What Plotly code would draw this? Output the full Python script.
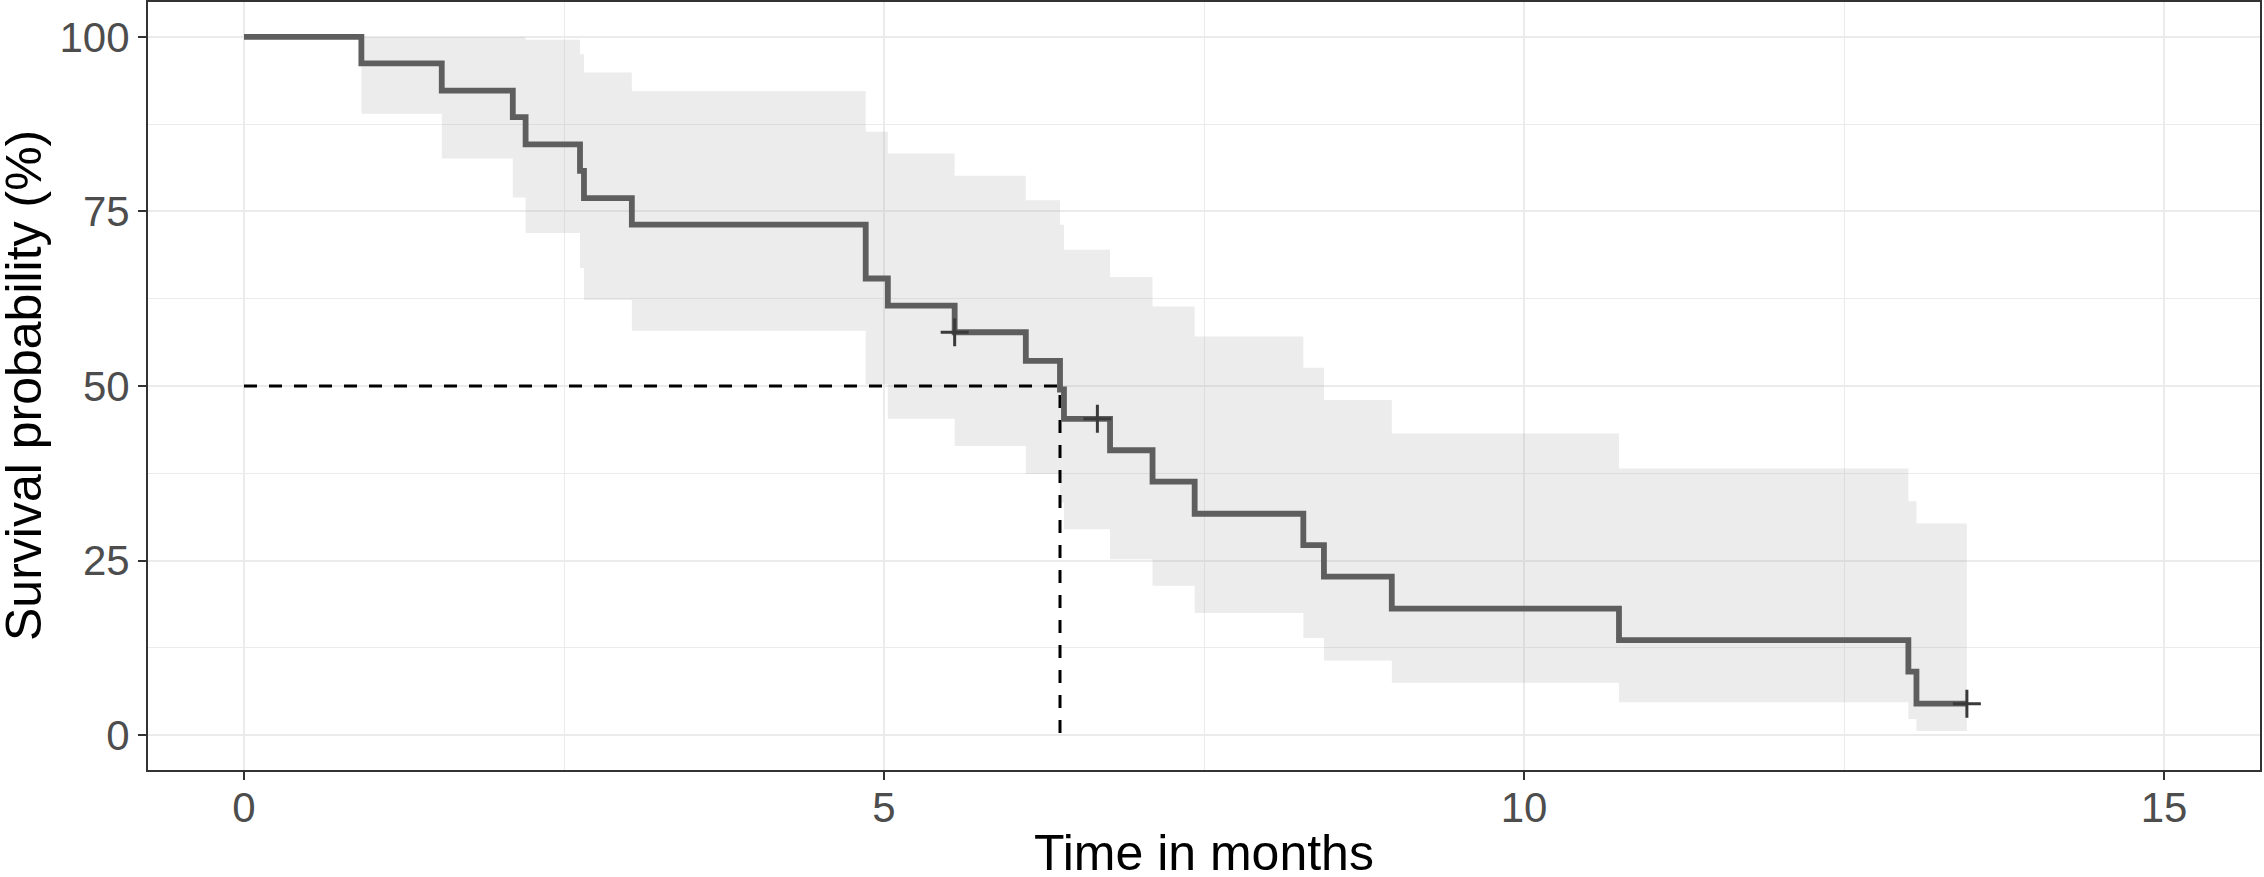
"""
Kaplan-Meier curve with confidence band and median survival line.
"""
import plotly.graph_objects as go

# event times (months) where the curve drops, and survival (%) after each drop
event_time = [0, 0.917, 1.545, 2.10, 2.20, 2.625, 2.656, 3.03, 4.857, 5.03, 5.552,
              6.108, 6.375, 6.406, 6.766, 7.098, 7.427, 8.276, 8.437, 8.967,
              10.742, 13.003, 13.066]
surv = [100, 96.2, 92.3, 88.5, 84.6, 80.8, 76.9, 73.1, 65.4, 61.5, 57.7,
        53.6, 49.5, 45.3, 40.8, 36.3, 31.7, 27.2, 22.7, 18.1,
        13.6, 9.1, 4.5]
# confidence band for each interval
upper = [100, 100, 100, 100, 99.6, 97.5, 94.9, 92.2, 86.4, 83.3, 80.1,
         76.6, 73.1, 69.5, 65.6, 61.4, 57.1, 52.6, 48.0, 43.2,
         38.2, 33.5, 30.3]
lower = [100, 89.0, 82.6, 77.0, 71.9, 66.9, 62.3, 57.9, 50.2, 45.3, 41.4,
         37.4, 33.3, 29.5, 25.2, 21.4, 17.5, 13.9, 10.7, 7.5,
         4.7, 2.3, 0.6]
last_time = 13.46

# censored observations
censor_time = [5.552, 6.667, 13.46]
censor_surv = [57.7, 45.3, 4.5]

median_time = 6.375

x_ticks = [0, 5, 10, 15]
y_ticks = [0, 25, 50, 75, 100]

FONT = "Liberation Sans, Arial, Helvetica, sans-serif"

step_x = event_time + [last_time]

fig = go.Figure()

# confidence band
fig.add_trace(go.Scatter(
    x=step_x, y=upper + [upper[-1]],
    mode="lines", line=dict(width=0, shape="hv"),
    hoverinfo="skip", showlegend=False
))
fig.add_trace(go.Scatter(
    x=step_x, y=lower + [lower[-1]],
    mode="lines", line=dict(width=0, shape="hv"),
    fill="tonexty", fillcolor="rgba(170,170,170,0.22)",
    hoverinfo="skip", showlegend=False
))

# median lines
fig.add_trace(go.Scatter(
    x=[0, median_time, median_time], y=[50, 50, 0],
    mode="lines", line=dict(color="black", width=3, dash="13px,12px"),
    hoverinfo="skip", showlegend=False
))

# survival curve
fig.add_trace(go.Scatter(
    x=step_x, y=surv + [surv[-1]],
    mode="lines", line=dict(color="#5e5e5e", width=5.8, shape="hv"),
    showlegend=False
))

# censor marks
fig.add_trace(go.Scatter(
    x=censor_time, y=censor_surv,
    mode="markers",
    marker=dict(symbol="cross-thin", size=20, line=dict(width=3, color="#3a3a3a")),
    showlegend=False
))

axis_common = dict(
    showline=True, mirror=True, linecolor="#333333", linewidth=2,
    ticks="outside", ticklen=8, tickwidth=2, tickcolor="#333333",
    showgrid=True, gridcolor="#EBEBEB", gridwidth=2, zeroline=False,
    tickfont=dict(family=FONT, size=42, color="#4D4D4D"),
    automargin=False,
)

fig.update_layout(
    width=2264, height=877,
    margin=dict(l=148, r=4, t=2, b=107),
    paper_bgcolor="white", plot_bgcolor="white",
    xaxis=dict(
        range=[-0.75, 15.75], tickvals=x_ticks,
        minor=dict(dtick=2.5, tick0=0, showgrid=True, gridcolor="#EBEBEB", gridwidth=1),
        ticklabelstandoff=-8,
        **axis_common
    ),
    yaxis=dict(
        range=[-5, 105], tickvals=y_ticks,
        minor=dict(dtick=12.5, tick0=0, showgrid=True, gridcolor="#EBEBEB", gridwidth=1),
        **axis_common
    ),
)

# axis titles as annotations so they can sit right at the page edges
fig.add_annotation(text="Time in months", xref="paper", yref="paper",
                   x=0.5, y=-0.1087, xanchor="center", yanchor="middle",
                   showarrow=False, font=dict(family=FONT, size=50, color="black"))
fig.add_annotation(text="Survival probability (%)", xref="paper", yref="paper",
                   x=-0.0587, y=0.5, xanchor="center", yanchor="middle", textangle=-90,
                   showarrow=False, font=dict(family=FONT, size=50, color="black"))

# drop the default page margin so the figure fills the window exactly
fig.write_html("out.html", config={"displayModeBar": False},
               post_script="document.body.style.margin='0';document.body.style.overflow='hidden';")
